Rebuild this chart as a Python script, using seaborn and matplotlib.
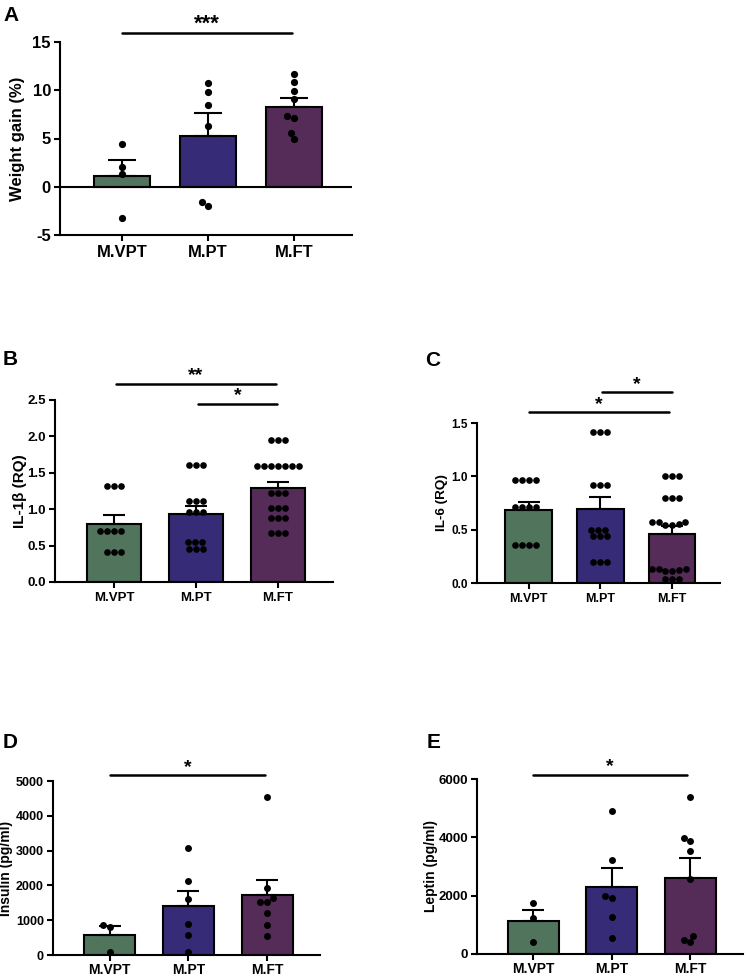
import numpy as np
import pandas as pd
import matplotlib
matplotlib.use("Agg")
import matplotlib.pyplot as plt
import seaborn as sns

groups = ["M.VPT", "M.PT", "M.FT"]
colors = ["#4b7a5b", "#2d1f82", "#5c245f"]

# A - weight gain (%)
wg_vpt = [4.41, 2.07, 1.31, -3.28]
wg_pt = [10.76, 9.83, 8.45, 6.31, -1.55, -2.0]
wg_ft = [11.66, 10.86, 9.93, 9.07, 7.17, 7.34, 5.59, 4.9]

# B - IL-1beta (RQ)
il1b_vpt = [1.32, 1.32, 1.32, 0.70, 0.70, 0.70, 0.70, 0.41, 0.41, 0.41]
il1b_pt = [1.61, 1.61, 1.61, 1.11, 1.11, 1.11, 0.96, 0.96, 0.96,
           0.55, 0.55, 0.55, 0.46, 0.46, 0.46]
il1b_ft = [1.95, 1.95, 1.95, 1.59, 1.59, 1.59, 1.59, 1.59, 1.59, 1.59,
           1.22, 1.22, 1.22, 1.02, 1.02, 1.02, 0.88, 0.88, 0.88,
           0.67, 0.67, 0.67]

# C - IL-6 (RQ)
il6_vpt = [0.97, 0.97, 0.97, 0.97, 0.71, 0.71, 0.71, 0.71,
           0.36, 0.36, 0.36, 0.36]
il6_pt = [1.42, 1.42, 1.42, 0.92, 0.92, 0.92, 0.50, 0.50, 0.50,
          0.44, 0.44, 0.44, 0.20, 0.20, 0.20]
il6_ft = [1.0, 1.0, 1.0, 0.80, 0.80, 0.80,
          0.574, 0.543, 0.574, 0.543, 0.55, 0.574,
          0.135, 0.11, 0.135, 0.12, 0.135, 0.11, 0.04, 0.04, 0.04]

# D - insulin (pg/ml)
ins_vpt = [860, 793, 96]
ins_pt = [3088, 2122, 1616, 889, 574, 76]
ins_ft = [4541, 1931, 1625, 1511, 1530, 1214, 851, 545]

# E - leptin (pg/ml)
lep_vpt = [1749, 1223, 411]
lep_pt = [4903, 3223, 1920, 1977, 1257, 560]
lep_ft = [5394, 3989, 3874, 3543, 2560, 629, 491, 411]

sns.set_style("ticks")
plt.rcParams["font.family"] = ["Liberation Sans", "DejaVu Sans"]
plt.rcParams["font.weight"] = "bold"
plt.rcParams["axes.labelweight"] = "bold"
plt.rcParams["axes.unicode_minus"] = False
for k in ["text.color", "axes.labelcolor", "xtick.color", "ytick.color"]:
    plt.rcParams[k] = "black"

W, H = 747, 976
fig = plt.figure(figsize=(W / 100, H / 100), dpi=100)


def px_axes(left, top, right, bottom):
    return fig.add_axes([left / W, 1 - bottom / H, (right - left) / W, (bottom - top) / H])


def panel(ax, vals, ylim, yticks, ylabel, fs_tick, fs_xtick, fs_lab, label_x, dot, cap, pad=3.5):
    df = pd.DataFrame({"group": np.repeat(groups, [len(v) for v in vals]),
                       "value": np.concatenate(vals)})
    sns.barplot(data=df, x="group", y="value", order=groups, hue="group",
                palette=dict(zip(groups, colors)), errorbar=None, width=0.65,
                edgecolor="black", linewidth=1.5, legend=False, ax=ax)
    g = df.groupby("group")["value"]
    means = g.mean().reindex(groups).values
    sems = g.sem().reindex(groups).values
    ax.errorbar(range(3), means, yerr=[np.zeros(3), sems], fmt="none",
                ecolor="black", elinewidth=1.5, capsize=cap, capthick=1.5, zorder=3)
    sns.swarmplot(data=df, x="group", y="value", order=groups, color="black",
                  size=dot, ax=ax, zorder=4)
    for c in ax.collections:
        c.set_clip_on(False)
    ax.set_xlim(-0.72, 2.67)
    ax.set_ylim(*ylim)
    ax.set_yticks(yticks)
    ax.set_xlabel("")
    ax.set_ylabel(ylabel, fontsize=fs_lab, fontweight="bold")
    ax.yaxis.set_label_coords(label_x, 0.5)
    ax.yaxis.label.set_verticalalignment("center")
    sns.despine(ax=ax)
    for s in ["left", "bottom"]:
        ax.spines[s].set_linewidth(1.5)
        ax.spines[s].set_color("black")
    ax.tick_params(direction="out", length=4, width=1.5, colors="black")
    ax.tick_params(axis="y", labelsize=fs_tick, pad=2.5)
    ax.tick_params(axis="x", labelsize=fs_xtick, pad=pad)
    for lab in ax.get_xticklabels() + ax.get_yticklabels():
        lab.set_fontweight("bold")


def sig(ax, x0, x1, y, text, ty, fs=14):
    ax.plot([x0, x1], [y, y], color="black", lw=1.8, clip_on=False)
    ax.text((x0 + x1) / 2, ty, text, ha="center", va="center",
            fontsize=fs, fontweight="bold")


# A
axA = px_axes(60, 42, 352, 235)
panel(axA, [wg_vpt, wg_pt, wg_ft], (-5, 15), [-5, 0, 5, 10, 15],
      "Weight gain (%)", 12, 12, 12, -0.147, 5.2, 10)
axA.axhline(0, color="black", lw=1.5, zorder=2)
sig(axA, 0.0, 1.97, 15.93, "***", 16.8, 16)

# B
axB = px_axes(55, 400, 333, 582)
panel(axB, [il1b_vpt, il1b_pt, il1b_ft], (0, 2.5), [0, 0.5, 1.0, 1.5, 2.0, 2.5],
      "IL-1β (RQ)", 9.5, 9.5, 11, -0.127, 4.8, 8)
sig(axB, 0.02, 1.97, 2.72, "**", 2.83)
sig(axB, 1.02, 1.99, 2.45, "*", 2.56)

# C
axC = px_axes(477, 423, 720, 583)
panel(axC, [il6_vpt, il6_pt, il6_ft], (0, 1.5), [0, 0.5, 1.0, 1.5],
      "IL-6 (RQ)", 8.5, 9, 9.7, -0.145, 4.8, 8)
sig(axC, 1.02, 2.0, 1.79, "*", 1.86)
sig(axC, 0.01, 1.96, 1.60, "*", 1.67)

# D
axD = px_axes(53, 781, 320, 955)
panel(axD, [ins_vpt, ins_pt, ins_ft], (0, 5000), [0, 1000, 2000, 3000, 4000, 5000],
      "Insulin (pg/ml)", 9, 10, 10, -0.175, 5, 8, pad=2)
sig(axD, 0.0, 1.97, 5163, "*", 5400)

# E
axE = px_axes(477, 779, 743, 954)
panel(axE, [lep_vpt, lep_pt, lep_ft], (0, 6000), [0, 2000, 4000, 6000],
      "Leptin (pg/ml)", 9.5, 10, 10, -0.174, 5, 8, pad=2)
sig(axE, 0.0, 1.95, 6147, "*", 6420)

for letter, x, y in [("A", 3, 21), ("B", 3, 365), ("C", 425, 366),
                     ("D", 3, 748), ("E", 427, 748)]:
    fig.text(x / W, 1 - y / H, letter, ha="left", va="baseline",
             fontsize=15, fontweight="bold")

fig.savefig("out.png", dpi=100)
